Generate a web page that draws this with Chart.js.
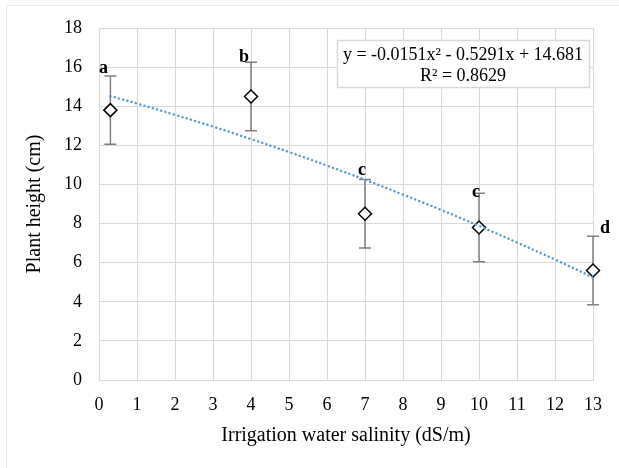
<!DOCTYPE html>
<html>
<head>
<meta charset="utf-8">
<script src="https://cdn.jsdelivr.net/npm/chart.js@4.4.0/dist/chart.umd.min.js"></script>
<style>
  body { margin: 0; background: #fff; }
</style>
</head>
<body>
<canvas id="myChart" width="619" height="468"></canvas>
<script>
// salinity levels (dS/m) and mean plant height (cm)
const salinity = [0.3, 4, 7, 10, 13];
const plantHeight = [13.8, 14.5, 8.5, 7.8, 5.6];
const errorBars = [1.75, 1.75, 1.75, 1.75, 1.75];
const letters = ['a', 'b', 'c', 'c', 'd'];

// dotted polynomial trendline
const trendX = [0.3, 1, 2, 3, 4, 5, 6, 7, 8, 9, 10, 11, 12, 13];
const trendY = [14.52, 14.14, 13.56, 12.96, 12.32, 11.66, 10.96, 10.24, 9.48, 8.70, 7.88, 7.03, 6.16, 5.25];

const equationLines = ['y = -0.0151x\u00B2 - 0.5291x + 14.681', 'R\u00B2 = 0.8629'];

const serif = '"Liberation Serif", "Times New Roman", serif';
const gridColor = '#d9d9d9';

// error bars under the markers
const errorBarPlugin = {
    id: 'errorBars',
    beforeDatasetsDraw(chart) {
        const ctx = chart.ctx;
        const xs = chart.scales.x, ys = chart.scales.y;
        ctx.save();
        ctx.strokeStyle = '#808080';
        ctx.lineWidth = 1.5;
        salinity.forEach((x, i) => {
            const px = xs.getPixelForValue(x);
            const top = ys.getPixelForValue(plantHeight[i] + errorBars[i]);
            const bot = ys.getPixelForValue(plantHeight[i] - errorBars[i]);
            ctx.beginPath();
            ctx.moveTo(px, top); ctx.lineTo(px, bot);
            ctx.moveTo(px - 6, top); ctx.lineTo(px + 6, top);
            ctx.moveTo(px - 6, bot); ctx.lineTo(px + 6, bot);
            ctx.stroke();
        });
        ctx.restore();
    }
};

// letters, equation box and outer frame
const letterOffset = [[-7, -3], [-7, 0], [-3, -5], [-3, 4], [12, -3]];
const extrasPlugin = {
    id: 'extras',
    beforeDraw(chart) {
        const ctx = chart.ctx;
        ctx.save();
        ctx.fillStyle = '#fff';
        ctx.fillRect(0, 0, chart.width, chart.height);
        ctx.strokeStyle = '#ebebeb';
        ctx.lineWidth = 1;
        ctx.beginPath();
        ctx.moveTo(6.5, chart.height); ctx.lineTo(6.5, 5.5); ctx.lineTo(chart.width, 5.5);
        ctx.stroke();
        ctx.restore();
    },
    afterDraw(chart) {
        const ctx = chart.ctx;
        const xs = chart.scales.x, ys = chart.scales.y;
        ctx.save();
        ctx.fillStyle = '#000';
        ctx.font = 'bold 18px ' + serif;
        ctx.textAlign = 'center';
        ctx.textBaseline = 'alphabetic';
        letters.forEach((t, i) => {
            const px = xs.getPixelForValue(salinity[i]);
            const top = ys.getPixelForValue(plantHeight[i] + errorBars[i]);
            ctx.fillText(t, px + letterOffset[i][0], top + letterOffset[i][1]);
        });
        // equation box
        ctx.fillStyle = '#fff';
        ctx.fillRect(337, 40, 252, 47);
        ctx.strokeStyle = gridColor;
        ctx.strokeRect(337.5, 40.5, 252, 47);
        ctx.fillStyle = '#000';
        ctx.font = '18px ' + serif;
        ctx.textBaseline = 'middle';
        ctx.fillText(equationLines[0], 463, 55);
        ctx.fillText(equationLines[1], 463, 76);
        ctx.restore();
    }
};

const ctx = document.getElementById('myChart').getContext('2d');
new Chart(ctx, {
    type: 'scatter',
    data: {
        datasets: [{
            label: 'Trend',
            type: 'line',
            data: trendX.map((x, i) => ({ x: x, y: trendY[i] })),
            borderColor: '#5b9bd5',
            borderWidth: 2.5,
            borderDash: [0.01, 4.4],
            borderCapStyle: 'round',
            pointRadius: 0,
            tension: 0.4,
            fill: false,
            order: 0
        }, {
            label: 'Plant height',
            data: salinity.map((x, i) => ({ x: x, y: plantHeight[i] })),
            pointStyle: 'rectRot',
            pointRadius: 6.5,
            pointHoverRadius: 6.5,
            pointBackgroundColor: '#fff',
            pointBorderColor: '#000',
            pointBorderWidth: 1.5,
            clip: false,
            order: 1
        }]
    },
    options: {
        responsive: false,
        animation: false,
        layout: { padding: { left: 0, top: 28, right: 26, bottom: 0 } },
        plugins: {
            legend: { display: false },
            tooltip: { enabled: false }
        },
        scales: {
            x: {
                type: 'linear',
                min: 0,
                max: 13,
                afterFit: s => { s.height = 88; },
                ticks: { stepSize: 1, padding: 14, color: '#000', font: { family: serif, size: 18 } },
                grid: { color: gridColor, drawTicks: false },
                border: { color: gridColor },
                title: {
                    display: true,
                    text: 'Irrigation water salinity (dS/m)',
                    color: '#000',
                    font: { family: serif, size: 20 },
                    padding: { top: 20, bottom: 20 }
                }
            },
            y: {
                min: 0,
                max: 18,
                afterFit: s => { s.width = 99; },
                ticks: { stepSize: 2, padding: 17, color: '#000', font: { family: serif, size: 18 } },
                grid: { color: gridColor, drawTicks: false },
                border: { color: gridColor },
                title: {
                    display: true,
                    text: 'Plant height (cm)',
                    color: '#000',
                    font: { family: serif, size: 20 },
                    padding: { top: 23, bottom: 23 }
                }
            }
        }
    },
    plugins: [errorBarPlugin, extrasPlugin]
});
</script>
</body>
</html>
